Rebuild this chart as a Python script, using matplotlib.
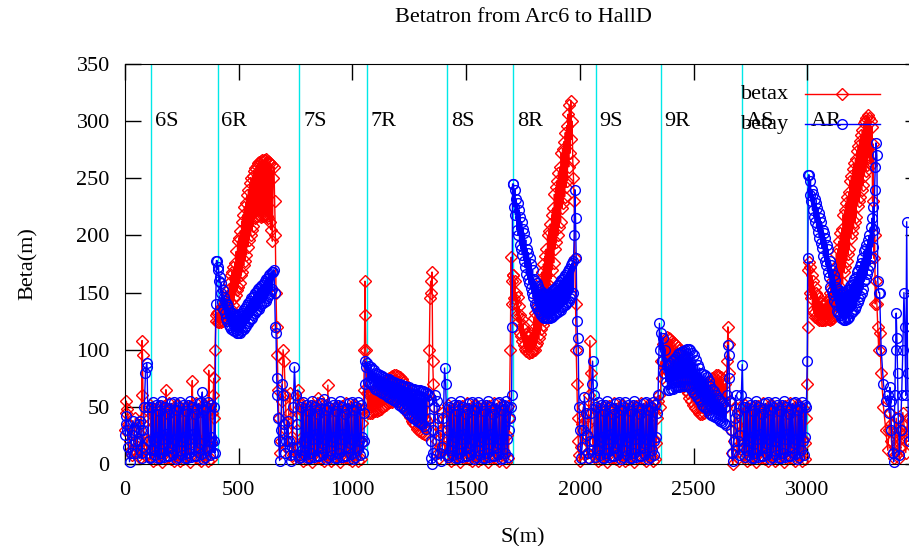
import numpy as np
import matplotlib.pyplot as plt
from matplotlib.lines import Line2D

plt.rcParams['font.family'] = ['Liberation Serif', 'DejaVu Serif']
plt.rcParams['font.size'] = 16

# lattice markers (S position, label)
sec_pos = [113, 407, 766, 1062, 1418, 1707, 2069, 2356, 2713, 2999]
sec_names = ["6S", "6R", "7S", "7R", "8S", "8R", "9S", "9R", "AS", "AR"]

# start of line, before 6S
s_in = [0, 3, 6, 10, 15, 20, 25, 30, 35, 40, 45, 50, 55, 60, 65, 70, 73, 75, 77, 80, 85, 90, 95, 97, 100, 105, 110]
bx_in = [30, 45, 55, 48, 35, 20, 12, 8, 12, 25, 40, 30, 15, 8, 5, 20, 60, 108, 95, 40, 15, 8, 10, 20, 30, 40, 48]
by_in = [25, 35, 42, 30, 15, 2, 10, 25, 38, 30, 20, 10, 20, 35, 38, 30, 10, 5, 15, 30, 50, 80, 88, 85, 50, 20, 5]

# 6S straight
s_6s = [112, 116, 120, 124, 128, 132, 136, 140, 144, 148, 152, 156, 160, 164, 168, 172, 176, 180, 184, 188,
        192, 196, 200, 204, 208, 212, 216, 220, 224, 228, 232, 236, 240, 244, 248, 252, 256, 260, 264, 268,
        272, 276, 280, 284, 288, 292, 296, 300, 304, 308, 312, 316, 320, 324, 328, 332, 336, 340, 344, 348,
        352, 356, 360, 364, 368, 372, 376, 380, 384, 388]
bx_6s = [52, 6, 46, 3, 22, 48, 4, 18, 50, 10,
         50, 8, 44, 2, 25, 51, 5, 65, 47, 12,
         53, 5, 48, 4, 20, 46, 3, 20, 52, 9,
         52, 6, 46, 3, 22, 48, 4, 18, 50, 10,
         50, 8, 44, 2, 25, 51, 73, 15, 47, 12,
         53, 5, 48, 4, 20, 46, 3, 20, 52, 9,
         52, 6, 46, 3, 82, 48, 4, 18, 45, 60]
by_6s = [6, 50, 12, 54, 20, 8, 52, 24, 5, 46,
         5, 52, 10, 55, 22, 6, 50, 26, 7, 44,
         7, 48, 14, 53, 18, 9, 54, 22, 4, 47,
         6, 50, 12, 54, 20, 8, 52, 24, 5, 46,
         5, 52, 10, 55, 22, 6, 50, 26, 7, 44,
         7, 48, 14, 53, 18, 9, 54, 63, 4, 47,
         6, 50, 12, 54, 20, 8, 52, 24, 19, 10]

s_a6 = [390, 393, 396, 399, 402]
bx_a6 = [75, 40, 100, 125, 130]
by_a6 = [20, 50, 10, 140, 178]

# 6R arc
s_6r = [405, 408, 411, 414, 417, 420, 423, 426, 429, 432,
        435, 438, 441, 444, 447, 450, 453, 456, 459, 462,
        465, 468, 471, 474, 477, 480, 483, 486, 489, 492,
        495, 498, 501, 504, 507, 510, 513, 516, 519, 522,
        525, 528, 531, 534, 537, 540, 543, 546, 549, 552,
        555, 558, 561, 564, 567, 570, 573, 576, 579, 582,
        585, 588, 591, 594, 597, 600, 603, 606, 609, 612,
        615, 618, 621, 624, 627, 630, 633, 636, 639, 642,
        645, 648, 651]
bx_6r = [132, 124, 133, 124, 135, 124, 137, 125, 138, 125,
         140, 126, 143, 128, 147, 130, 152, 132, 158, 134,
         165, 136, 168, 139, 172, 145, 176, 148, 186, 152,
         195, 155, 198, 158, 204, 165, 212, 168, 218, 174,
         225, 178, 228, 183, 235, 190, 240, 196, 246, 200,
         250, 205, 252, 208, 256, 215, 259, 216, 261, 217,
         263, 218, 264, 217, 265, 216, 266, 217, 266, 218,
         266, 218, 267, 217, 265, 215, 264, 212, 263, 205,
         262, 195, 250]
by_6r = [178, 170, 172, 160, 164, 150, 158, 142, 152, 136,
         146, 132, 143, 128, 140, 125, 137, 122, 135, 120,
         133, 118, 132, 117, 131, 116, 130, 116, 130, 115,
         130, 115, 131, 115, 131, 116, 132, 117, 134, 118,
         136, 120, 137, 121, 139, 123, 141, 125, 143, 127,
         145, 128, 146, 130, 148, 132, 150, 134, 151, 135,
         153, 136, 154, 138, 156, 140, 157, 141, 158, 142,
         160, 143, 162, 145, 163, 147, 165, 149, 166, 151,
         168, 153, 168]

s_b6 = [655, 658, 661, 664, 667, 670, 673, 676, 680, 685, 690, 695, 700, 705, 710, 715, 720, 725, 730, 735,
        740, 745, 750, 755, 760, 765, 769]
bx_b6 = [260, 230, 200, 150, 120, 95, 65, 40, 10, 20, 55, 100, 90, 60, 30, 15, 45, 62, 40, 20,
         8, 5, 15, 30, 65, 55, 50]
by_b6 = [170, 150, 120, 115, 75, 60, 40, 20, 3, 30, 70, 60, 35, 10, 20, 38, 20, 8, 3, 15,
         50, 85, 60, 35, 15, 5, 8]

# 7S straight
s_7s = [772, 776, 780, 784, 788, 792, 796, 800, 804, 808, 812, 816, 820, 824, 828, 832, 836, 840, 844, 848,
        852, 856, 860, 864, 868, 872, 876, 880, 884, 888, 892, 896, 900, 904, 908, 912, 916, 920, 924, 928,
        932, 936, 940, 944, 948, 952, 956, 960, 964, 968, 972, 976, 980, 984, 988, 992, 996, 1000, 1004, 1008,
        1012, 1016, 1020, 1024, 1028, 1032, 1036, 1040, 1044, 1048]
bx_7s = [52, 6, 46, 3, 22, 48, 4, 18, 50, 10,
         50, 8, 44, 2, 25, 51, 5, 15, 47, 58,
         53, 5, 48, 4, 20, 46, 3, 20, 52, 9,
         69, 6, 46, 3, 22, 48, 4, 18, 50, 10,
         50, 8, 44, 2, 25, 51, 5, 15, 47, 12,
         53, 5, 48, 4, 20, 46, 3, 20, 52, 9,
         52, 6, 46, 3, 22, 48, 4, 18, 36, 48]
by_7s = [6, 50, 12, 54, 20, 8, 52, 24, 5, 46,
         5, 52, 10, 55, 22, 6, 50, 26, 7, 44,
         7, 48, 14, 53, 18, 9, 57, 22, 4, 47,
         6, 50, 12, 54, 20, 8, 52, 24, 5, 46,
         5, 52, 10, 55, 22, 6, 50, 26, 7, 44,
         7, 48, 14, 53, 18, 9, 54, 22, 4, 47,
         6, 50, 12, 54, 20, 8, 52, 24, 19, 10]

s_a7 = [1050, 1053, 1055, 1057, 1059]
bx_a7 = [65, 100, 160, 130, 100]
by_a7 = [20, 45, 70, 90, 85]

# 7R arc
s_7r = [1064, 1068, 1072, 1076, 1080, 1084, 1088, 1092, 1096, 1100,
        1104, 1108, 1112, 1116, 1120, 1124, 1128, 1132, 1136, 1140,
        1144, 1148, 1152, 1156, 1160, 1164, 1168, 1172, 1176, 1180,
        1184, 1188, 1192, 1196, 1200, 1204, 1208, 1212, 1216, 1220,
        1224, 1228, 1232, 1236, 1240, 1244, 1248, 1252, 1256, 1260,
        1264, 1268, 1272, 1276, 1280, 1284, 1288, 1292, 1296, 1300,
        1304, 1308, 1312, 1316, 1320, 1324, 1328]
bx_7r = [62, 45, 62, 45, 63, 45, 63, 46, 64, 46,
         64, 46, 65, 47, 67, 48, 69, 50, 70, 51,
         72, 52, 73, 53, 75, 54, 76, 54, 77, 55,
         78, 56, 78, 56, 77, 55, 76, 54, 74, 52,
         72, 50, 70, 48, 66, 44, 63, 41, 60, 38,
         57, 36, 54, 34, 51, 31, 48, 29, 45, 28,
         43, 27, 42, 26, 40, 25, 38]
by_7r = [88, 72, 86, 71, 85, 70, 83, 68, 82, 66,
         80, 65, 79, 64, 78, 63, 77, 62, 76, 61,
         75, 60, 74, 59, 74, 58, 73, 57, 72, 56,
         72, 55, 71, 54, 70, 52, 70, 51, 69, 50,
         68, 48, 68, 47, 67, 45, 67, 43, 66, 42,
         66, 40, 66, 39, 65, 38, 65, 37, 65, 36,
         64, 35, 64, 33, 63, 31, 62]

s_b7 = [1334, 1338, 1341, 1344, 1347, 1350, 1353, 1356, 1360, 1365, 1370, 1375, 1380, 1385, 1390, 1395,
        1400, 1405, 1410, 1415, 1419]
bx_b7 = [60, 100, 145, 160, 150, 168, 90, 70, 50, 35, 20, 10, 5, 15, 30, 45, 30, 15, 8, 20, 45]
by_b7 = [55, 60, 40, 20, 5, 0, 10, 30, 50, 60, 55, 40, 25, 10, 3, 15, 40, 84, 70, 30, 8]

# 8S straight
s_8s = [1422, 1426, 1430, 1434, 1438, 1442, 1446, 1450, 1454, 1458, 1462, 1466, 1470, 1474, 1478, 1482,
        1486, 1490, 1494, 1498, 1502, 1506, 1510, 1514, 1518, 1522, 1526, 1530, 1534, 1538, 1542, 1546,
        1550, 1554, 1558, 1562, 1566, 1570, 1574, 1578, 1582, 1586, 1590, 1594, 1598, 1602, 1606, 1610,
        1614, 1618, 1622, 1626, 1630, 1634, 1638, 1642, 1646, 1650, 1654, 1658, 1662, 1666, 1670, 1674,
        1678, 1682, 1686, 1690, 1694, 1698]
bx_8s = [52, 6, 46, 3, 22, 48, 4, 18, 50, 10,
         50, 8, 44, 2, 25, 51, 5, 15, 47, 12,
         53, 5, 48, 4, 20, 46, 3, 20, 52, 9,
         52, 6, 46, 3, 22, 48, 4, 18, 50, 10,
         50, 8, 44, 2, 25, 51, 5, 15, 47, 12,
         53, 5, 48, 4, 20, 46, 3, 20, 52, 9,
         50, 8, 44, 2, 25, 51, 5, 40, 100, 181]
by_8s = [6, 50, 12, 54, 20, 8, 52, 24, 5, 46,
         5, 52, 10, 55, 22, 6, 50, 26, 7, 44,
         7, 48, 14, 53, 18, 9, 54, 22, 4, 47,
         6, 50, 12, 54, 20, 8, 52, 24, 5, 46,
         5, 52, 10, 55, 22, 6, 50, 26, 7, 44,
         7, 48, 14, 53, 18, 9, 54, 22, 4, 47,
         5, 52, 10, 55, 22, 6, 50, 30, 40, 50]

s_a8 = [1700, 1702, 1704]
bx_a8 = [140, 160, 165]
by_a8 = [60, 120, 245]

# 8R arc
s_8r = [1708, 1711, 1714, 1717, 1720, 1723, 1726, 1729, 1732, 1735,
        1738, 1741, 1744, 1747, 1750, 1753, 1756, 1759, 1762, 1765,
        1768, 1771, 1774, 1777, 1780, 1783, 1786, 1789, 1792, 1795,
        1798, 1801, 1804, 1807, 1810, 1813, 1816, 1819, 1822, 1825,
        1828, 1831, 1834, 1837, 1840, 1843, 1846, 1849, 1852, 1855,
        1858, 1861, 1864, 1867, 1870, 1873, 1876, 1879, 1882, 1885,
        1888, 1891, 1894, 1897, 1900, 1903, 1906, 1909, 1912, 1915,
        1918, 1921, 1924, 1927, 1930, 1933, 1936, 1939, 1942, 1945,
        1948, 1951, 1954, 1957, 1960, 1963, 1966, 1969, 1972]
bx_8r = [165, 145, 160, 140, 150, 130, 146, 124, 138, 115,
         130, 112, 127, 108, 122, 104, 118, 101, 114, 99,
         112, 98, 112, 97, 113, 98, 115, 98, 118, 100,
         128, 100, 132, 104, 138, 106, 145, 110, 152, 114,
         162, 118, 168, 122, 175, 126, 182, 132, 188, 138,
         200, 150, 204, 156, 210, 162, 218, 170, 224, 176,
         236, 188, 242, 194, 248, 200, 255, 207, 260, 212,
         272, 224, 276, 228, 282, 234, 290, 242, 296, 248,
         306, 260, 314, 272, 318, 284, 300, 265, 250]
by_8r = [245, 225, 240, 218, 232, 205, 228, 200, 222, 192,
         216, 188, 212, 183, 206, 178, 202, 172, 196, 166,
         188, 162, 185, 158, 180, 154, 175, 150, 170, 146,
         162, 140, 160, 138, 158, 136, 156, 134, 153, 132,
         151, 130, 150, 129, 150, 128, 149, 128, 149, 128,
         149, 128, 149, 128, 150, 129, 151, 129, 152, 130,
         153, 131, 154, 132, 156, 133, 157, 134, 159, 135,
         161, 137, 162, 138, 164, 139, 165, 140, 167, 142,
         169, 143, 171, 145, 174, 148, 176, 150, 178]

s_b8 = [1975, 1978, 1981, 1984, 1987, 1990, 1993, 1996, 2000, 2005, 2010, 2015, 2020, 2025, 2030, 2035,
        2040, 2044, 2048, 2052, 2056, 2060, 2064]
bx_b8 = [230, 180, 140, 100, 70, 40, 20, 8, 3, 15, 35, 50, 40, 25, 10, 5, 60, 108, 80, 40, 20, 10, 30]
by_b8 = [200, 240, 215, 180, 125, 110, 100, 50, 30, 5, 15, 30, 59, 45, 25, 10, 5, 20, 45, 70, 90, 60, 20]

# 9S straight
s_9s = [2068, 2072, 2076, 2080, 2084, 2088, 2092, 2096, 2100, 2104, 2108, 2112, 2116, 2120, 2124, 2128,
        2132, 2136, 2140, 2144, 2148, 2152, 2156, 2160, 2164, 2168, 2172, 2176, 2180, 2184, 2188, 2192,
        2196, 2200, 2204, 2208, 2212, 2216, 2220, 2224, 2228, 2232, 2236, 2240, 2244, 2248, 2252, 2256,
        2260, 2264, 2268, 2272, 2276, 2280, 2284, 2288, 2292, 2296, 2300, 2304, 2308, 2312, 2316, 2320,
        2324, 2328, 2332, 2336, 2340, 2344]
bx_9s = [52, 6, 46, 3, 22, 48, 4, 18, 50, 10,
         50, 8, 44, 2, 25, 51, 5, 15, 47, 12,
         53, 5, 48, 4, 20, 46, 3, 20, 52, 9,
         52, 6, 46, 3, 22, 48, 4, 18, 50, 10,
         50, 8, 44, 2, 25, 51, 5, 15, 47, 12,
         53, 5, 48, 4, 20, 46, 3, 20, 52, 9,
         52, 6, 46, 3, 22, 48, 4, 18, 40, 55]
by_9s = [6, 50, 12, 54, 20, 8, 52, 24, 5, 46,
         5, 52, 10, 55, 22, 6, 50, 26, 7, 44,
         7, 48, 14, 53, 18, 9, 54, 22, 4, 47,
         6, 50, 12, 54, 20, 8, 52, 24, 5, 46,
         5, 52, 10, 55, 22, 6, 50, 26, 7, 44,
         7, 48, 14, 53, 18, 9, 54, 22, 4, 47,
         6, 50, 12, 54, 20, 8, 52, 24, 45, 60]

# 9R arc
s_9r = [2350, 2354, 2358, 2362, 2366, 2370, 2374, 2378, 2382, 2386,
        2390, 2394, 2398, 2402, 2406, 2410, 2414, 2418, 2422, 2426,
        2430, 2434, 2438, 2442, 2446, 2450, 2454, 2458, 2462, 2466,
        2470, 2474, 2478, 2482, 2486, 2490, 2494, 2498, 2502, 2506,
        2510, 2514, 2518, 2522, 2526, 2530, 2534, 2538, 2542, 2546,
        2550, 2554, 2558, 2562, 2566, 2570, 2574, 2578, 2582, 2586,
        2590, 2594, 2598, 2602, 2606, 2610, 2614, 2618, 2622, 2626,
        2630, 2634, 2638, 2642]
bx_9r = [60, 50, 90, 75, 105, 85, 108, 88, 111, 90,
         110, 88, 109, 86, 108, 85, 106, 83, 104, 80,
         102, 77, 100, 74, 98, 71, 96, 68, 93, 65,
         89, 62, 84, 58, 80, 55, 76, 52, 72, 49,
         68, 47, 64, 45, 62, 44, 60, 44, 61, 45,
         63, 47, 66, 50, 69, 52, 72, 54, 75, 57,
         76, 58, 78, 60, 78, 60, 77, 59, 76, 58,
         74, 55, 70, 50]
by_9r = [123, 100, 115, 90, 110, 80, 100, 72, 86, 65,
         87, 65, 88, 66, 90, 66, 92, 67, 94, 67,
         96, 67, 97, 68, 98, 68, 99, 68, 100, 68,
         101, 68, 101, 67, 100, 66, 97, 63, 95, 61,
         91, 59, 87, 57, 84, 55, 80, 52, 79, 50,
         78, 49, 76, 47, 73, 45, 68, 43, 66, 42,
         64, 41, 60, 40, 58, 39, 56, 38, 55, 37,
         53, 36, 50, 34]

s_b9 = [2647, 2651, 2654, 2657, 2660, 2664, 2668, 2672, 2676, 2680, 2685, 2690, 2695, 2700, 2705, 2710,
        2714, 2718, 2721]
bx_b9 = [90, 120, 105, 80, 55, 30, 10, 0, 20, 50, 35, 15, 5, 25, 50, 40, 20, 8, 30]
by_b9 = [60, 104, 95, 75, 55, 30, 10, 3, 20, 40, 60, 45, 20, 8, 25, 60, 87, 50, 15]

# AS straight
s_as = [2724, 2728, 2732, 2736, 2740, 2744, 2748, 2752, 2756, 2760, 2764, 2768, 2772, 2776, 2780, 2784,
        2788, 2792, 2796, 2800, 2804, 2808, 2812, 2816, 2820, 2824, 2828, 2832, 2836, 2840, 2844, 2848,
        2852, 2856, 2860, 2864, 2868, 2872, 2876, 2880, 2884, 2888, 2892, 2896, 2900, 2904, 2908, 2912,
        2916, 2920, 2924, 2928, 2932, 2936, 2940, 2944, 2948, 2952, 2956, 2960, 2964, 2968, 2972, 2976,
        2980, 2984, 2988, 2992, 2996, 3000]
bx_as = [52, 6, 46, 3, 22, 48, 4, 18, 50, 10,
         50, 8, 44, 2, 25, 51, 5, 15, 47, 12,
         53, 5, 48, 4, 20, 46, 3, 20, 52, 9,
         52, 6, 46, 3, 22, 48, 4, 18, 50, 10,
         50, 8, 44, 2, 25, 51, 5, 15, 47, 12,
         53, 5, 48, 4, 20, 46, 3, 20, 52, 9,
         52, 6, 46, 3, 22, 48, 4, 18, 40, 70]
by_as = [6, 50, 12, 54, 20, 8, 52, 24, 5, 46,
         5, 52, 10, 55, 22, 6, 50, 26, 7, 44,
         7, 48, 14, 53, 18, 9, 54, 22, 4, 47,
         6, 50, 12, 54, 20, 8, 52, 24, 5, 46,
         5, 52, 10, 55, 22, 6, 50, 26, 7, 44,
         7, 48, 14, 53, 18, 9, 54, 22, 4, 47,
         6, 50, 12, 54, 20, 8, 52, 24, 50, 90]

s_aa = [3002, 3005]
bx_aa = [120, 170]
by_aa = [180, 253]

# AR arc
s_ar = [3008, 3011, 3014, 3017, 3020, 3023, 3026, 3029, 3032, 3035,
        3038, 3041, 3044, 3047, 3050, 3053, 3056, 3059, 3062, 3065,
        3068, 3071, 3074, 3077, 3080, 3083, 3086, 3089, 3092, 3095,
        3098, 3101, 3104, 3107, 3110, 3113, 3116, 3119, 3122, 3125,
        3128, 3131, 3134, 3137, 3140, 3143, 3146, 3149, 3152, 3155,
        3158, 3161, 3164, 3167, 3170, 3173, 3176, 3179, 3182, 3185,
        3188, 3191, 3194, 3197, 3200, 3203, 3206, 3209, 3212, 3215,
        3218, 3221, 3224, 3227, 3230, 3233, 3236, 3239, 3242, 3245,
        3248, 3251, 3254, 3257, 3260, 3263, 3266, 3269, 3272, 3275,
        3278, 3281, 3284, 3287, 3290, 3293, 3296, 3299, 3302, 3306, 3310, 3314]
bx_ar = [177, 150, 172, 145, 165, 135, 160, 132, 155, 129,
         150, 128, 148, 127, 145, 126, 142, 126, 141, 126,
         140, 126, 140, 126, 141, 127, 142, 127, 144, 127,
         150, 126, 154, 127, 160, 128, 166, 130, 172, 133,
         184, 140, 188, 143, 195, 148, 202, 154, 206, 158,
         218, 168, 222, 172, 228, 178, 234, 184, 238, 188,
         248, 198, 252, 202, 258, 207, 263, 212, 267, 216,
         274, 226, 278, 230, 283, 234, 288, 240, 292, 244,
         298, 252, 300, 256, 303, 262, 305, 268, 303, 265,
         300, 262, 295, 230, 280, 180, 200, 140, 160, 140, 120, 100]
by_ar = [253, 235, 248, 230, 240, 222, 236, 216, 232, 212,
         228, 208, 224, 203, 220, 198, 215, 193, 212, 189,
         205, 182, 202, 178, 198, 174, 192, 168, 188, 164,
         178, 155, 174, 151, 170, 148, 165, 143, 161, 140,
         155, 134, 153, 132, 151, 130, 150, 128, 150, 127,
         150, 126, 150, 126, 151, 127, 152, 128, 153, 129,
         156, 132, 157, 133, 159, 134, 162, 136, 164, 138,
         168, 142, 170, 144, 173, 147, 176, 150, 180, 153,
         186, 160, 188, 162, 192, 166, 196, 170, 200, 174,
         207, 180, 215, 190, 225, 205, 240, 260, 281, 270, 160, 150]

# towards HallD
s_hd = [3318, 3325, 3335, 3345, 3354, 3360, 3363, 3366, 3370, 3375, 3380, 3385, 3388, 3391, 3394, 3397,
        3400, 3405, 3410, 3415, 3420, 3425, 3429, 3433, 3437, 3441, 3446]
bx_hd = [115, 80, 50, 30, 12, 30, 45, 35, 20, 10, 5, 15, 25, 40, 30, 20, 10, 5, 15, 30, 45, 35, 20, 10, 25, 40, 30]
by_hd = [150, 100, 70, 55, 60, 45, 67, 55, 30, 10, 2, 60, 100, 132, 110, 80, 40, 8, 30, 60, 100, 150, 120, 60,
         212, 80, 20]

s = np.concatenate([s_in, s_6s, s_a6, s_6r, s_b6, s_7s, s_a7, s_7r, s_b7, s_8s, s_a8, s_8r, s_b8,
                    s_9s, s_9r, s_b9, s_as, s_aa, s_ar, s_hd])
betax = np.concatenate([bx_in, bx_6s, bx_a6, bx_6r, bx_b6, bx_7s, bx_a7, bx_7r, bx_b7, bx_8s, bx_a8, bx_8r,
                        bx_b8, bx_9s, bx_9r, bx_b9, bx_as, bx_aa, bx_ar, bx_hd])
betay = np.concatenate([by_in, by_6s, by_a6, by_6r, by_b6, by_7s, by_a7, by_7r, by_b7, by_8s, by_a8, by_8r,
                        by_b8, by_9s, by_9r, by_b9, by_as, by_aa, by_ar, by_hd])
if not (len(s) == len(betax) == len(betay)):
    raise ValueError("length mismatch %d %d %d" % (len(s), len(betax), len(betay)))

W, H = 909, 546
fig = plt.figure(figsize=(W / 100, H / 100), dpi=100)
# plot box runs past the right edge like the original (cropped) picture
ax = fig.add_axes([125 / W, 1 - 464 / H, (921 - 125) / W, (464 - 64) / H])

for p in sec_pos:
    ax.axvline(p, color='#00e8e8', lw=1, zorder=1)

ax.plot(s, betax, color='red', lw=1, marker='D', ms=6.5, mfc='none', mew=1, clip_on=False, zorder=2)
ax.plot(s, betay, color='blue', lw=1, marker='o', ms=7, mfc='none', mew=1, clip_on=False, zorder=3)

for p, name in zip(sec_pos, sec_names):
    ax.text(p + 17, 300, name, ha='left', va='center', zorder=4)

ax.set_xlim(0, 3500)
ax.set_ylim(0, 350)
ax.set_xticks([0, 500, 1000, 1500, 2000, 2500, 3000])
ax.set_yticks([0, 50, 100, 150, 200, 250, 300, 350])
ax.tick_params(direction='in', length=11.5, width=1, top=True, right=True)
ax.tick_params(axis='x', pad=12)
ax.tick_params(axis='y', pad=11)
ax.set_xlabel("S(m)")
ax.set_ylabel("Beta(m)")
ax.xaxis.set_label_coords(0.5, -0.16)
ax.yaxis.set_label_coords(-0.11, 0.5)

fig.text(523 / W, 1 - 18 / H, "Betatron from Arc6 to HallD", ha='center', va='center')

# key, drawn by hand in the top right corner
for yk, lab, col, mk, msz in [(94, "betax", 'red', 'D', 6.5), (124, "betay", 'blue', 'o', 7)]:
    yf = 1 - yk / H
    fig.text(789 / W, yf, lab, ha='right', va='center')
    fig.add_artist(Line2D([805 / W, 880 / W], [yf, yf], color=col, lw=1))
    fig.add_artist(Line2D([842 / W], [yf], color=col, marker=mk, ms=msz, mfc='none', mew=1))

fig.savefig("out.png", dpi=100)
